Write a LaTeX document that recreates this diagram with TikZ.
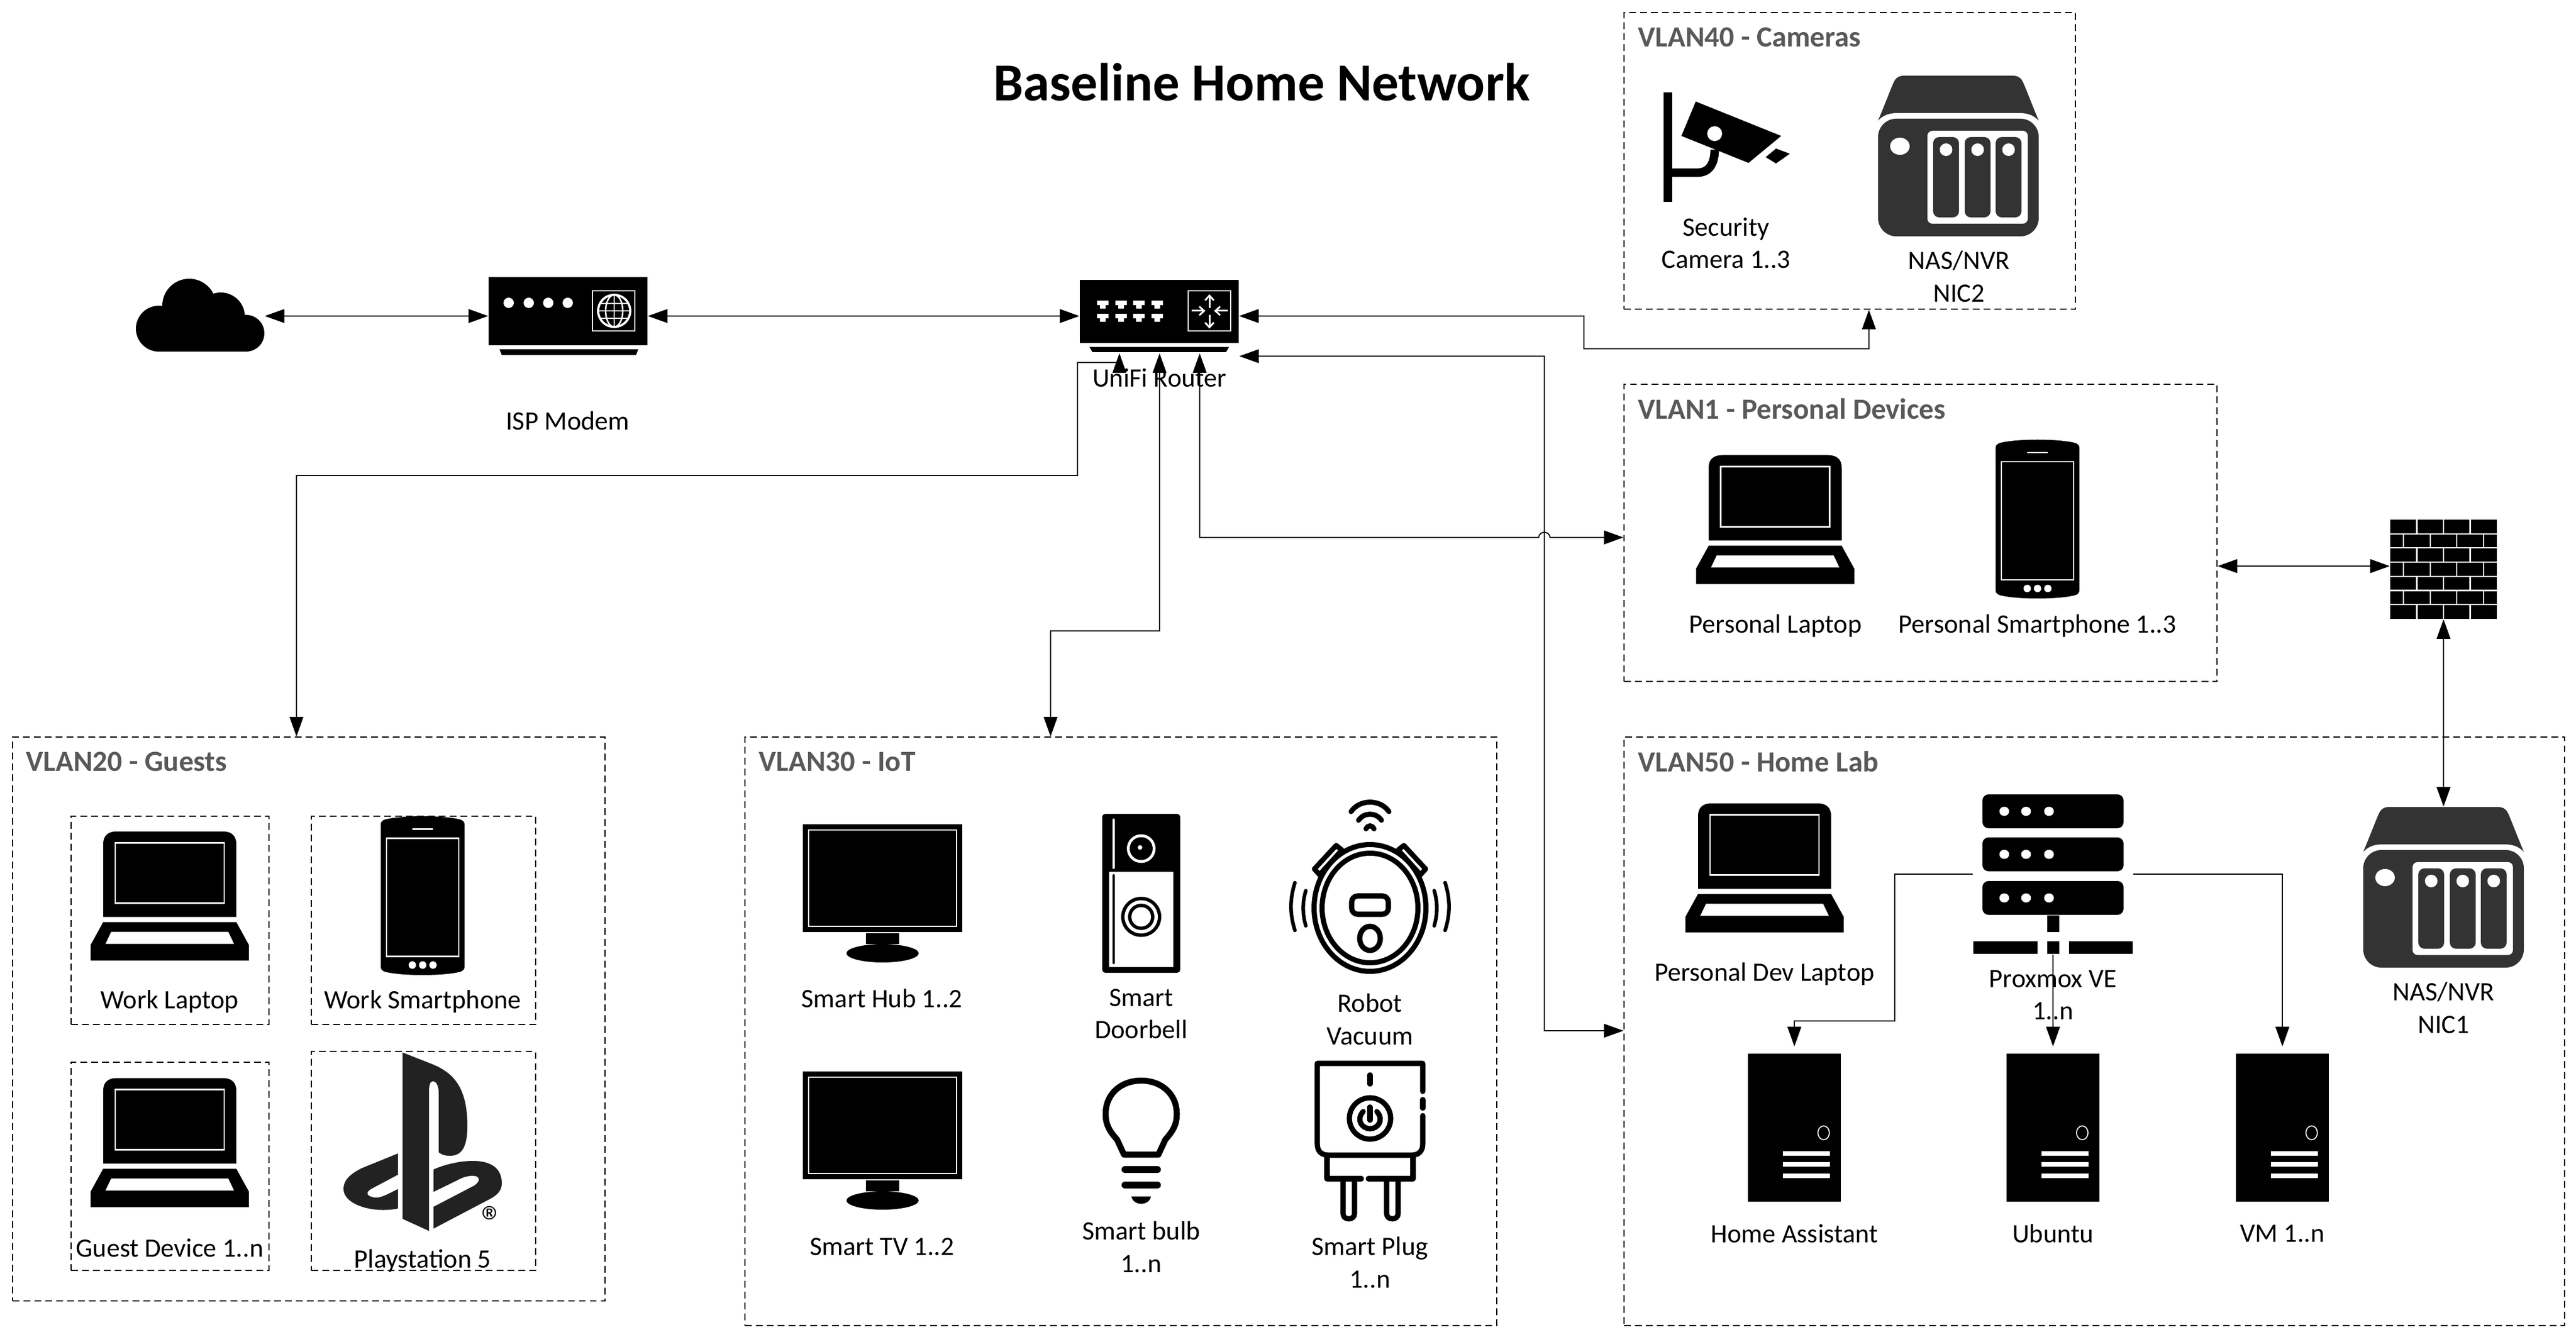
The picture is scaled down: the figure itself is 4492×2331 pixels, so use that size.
\documentclass[tikz,border=0pt]{standalone}
\usepackage{fontspec}
\setmainfont{Carlito}
\usetikzlibrary{arrows.meta}
\definecolor{nasgray}{HTML}{333333}
\definecolor{titlegray}{HTML}{595959}
\definecolor{logogray}{HTML}{222222}
\tikzset{
  box_line/.style={draw=black,line width=0.6pt,dash pattern=on 3.4pt off 2pt},
  vlan_box/.style 2 args={box_line,anchor=north west,inner sep=0pt,minimum width=#1*0.01cm,minimum height=#2*0.01cm},
  sub_box/.style 2 args={vlan_box={#1}{#2}},
  vlan_title/.style={anchor=west,inner sep=0pt,text=titlegray,font=\fontsize{14.5}{16}\selectfont\bfseries},
  lbl/.style={inner sep=0pt,align=center,font=\fontsize{13.15}{16}\selectfont},
  icon/.style 2 args={inner sep=0pt,minimum width=#1*0.01cm,minimum height=#2*0.01cm},
  link/.style={line width=0.55pt},
  laptop_icon/.pic={
    \fill (-116,37) -- (-116,-90) .. controls (-116,-106) and (-106,-112) .. (-92,-112) -- (92,-112) .. controls (106,-112) and (116,-106) .. (116,-90) -- (116,37) -- cycle;
    \draw[white,line width=0.6pt] (-95,-92) rectangle (95,13);
    \fill (-116,46) -- (116,46) -- (138,86) -- (138,113) -- (-138,113) -- (-138,86) -- cycle;
    \fill[white] (-102,63) -- (102,63) -- (112,84) -- (-112,84) -- cycle;
  },
  phone_icon/.pic={
    \fill (-73,-124) .. controls (-73,-132) and (-65,-133) .. (-60,-134) .. controls (-30,-140) and (30,-140) .. (60,-134) .. controls (65,-133) and (73,-132) .. (73,-124) -- (73,124) .. controls (73,132) and (65,133) .. (60,134) .. controls (30,140) and (-30,140) .. (-60,134) .. controls (-65,133) and (-73,132) .. (-73,124) -- cycle;
    \draw[white,line width=0.6pt] (-63,-100) rectangle (63,106);
    \draw[white,line width=0.6pt] (-18,-116) -- (18,-116);
    \foreach \dotx in {-18,0,18} \fill[white] (\dotx,121) circle (6.5);
  },
  nas_icon/.pic={
    \fill[nasgray] (-140,-62) .. controls (-130,-85) and (-115,-125) .. (-112,-130) .. controls (-108,-138) and (-102,-140) .. (-95,-140) -- (95,-140) .. controls (102,-140) and (108,-138) .. (112,-130) .. controls (115,-125) and (130,-85) .. (140,-62) .. controls (130,-72) and (120,-75) .. (105,-75) -- (-105,-75) .. controls (-120,-75) and (-130,-72) .. (-140,-62) -- cycle;
    \fill[nasgray,rounded corners=9pt] (-140,-65) rectangle (140,140);
    \fill[white,rounded corners=2.5pt] (-54,-44) rectangle (121,118);
    \foreach \bayx in {-44,11,65} {
      \fill[nasgray,rounded corners=3pt] (\bayx,-33) rectangle ++(45,140);
      \fill[white] (\bayx+22.5,-11) ellipse [x radius=11,y radius=11];
    }
    \fill[white] (-102,-17) ellipse [x radius=17,y radius=15];
  },
  tower_icon/.pic={
    \fill (-81,-129) rectangle (81,129);
    \draw[white,line width=0.5pt] (51,9) ellipse [x radius=10,y radius=12];
    \foreach \bary in {45,64,84} \fill[white] (-20,\bary-4) rectangle (62,\bary+4);
  },
  monitor_icon/.pic={
    \fill (-139,-120) rectangle (139,68);
    \draw[white,line width=0.5pt] (-129,-110) rectangle (129,58);
    \fill (-29,70) rectangle (29,89);
    \fill (0,105) ellipse [x radius=63,y radius=16];
  },
  modem_icon/.pic={
    \fill (-138.5,-68) rectangle (138.5,51);
    \fill (-119.5,58) -- (122.5,58) -- (118.5,68) -- (-115.5,68) -- cycle;
    \foreach \dotx in {-103.5,-68.5,-34.5,-0.5} \fill[white] (\dotx,-23) circle (9);
    \draw[white,line width=0.6pt] (42.5,-44) rectangle (116.5,26);
    \draw[white,line width=1.1pt] (80.5,-9) circle (28);
    \begin{scope}[white,line width=0.75pt]
      \draw (80.5,-9) ellipse [x radius=15,y radius=28];
      \draw (80.5,-37) -- (80.5,19);
      \draw (52,-9) -- (109,-9) (56,-22) -- (105,-22) (56,4) -- (105,4);
    \end{scope}
  },
  router_icon/.pic={
    \fill (-138.5,-63) rectangle (138.5,47);
    \fill (-121.5,54) -- (121.5,54) -- (116.5,63) -- (-116.5,63) -- cycle;
    \foreach \portx in {-98.5,-66.5,-35.5,-3.5} \foreach \porty in {-27,-4} {
      \fill[white] (\portx-10,\porty) rectangle (\portx+10,\porty+8);
      \fill[white] (\portx-5,\porty+8) rectangle (\portx+5,\porty+14);
    }
    \draw[white,line width=0.6pt] (50.5,-44) rectangle (124.5,26);
    \begin{scope}[white,line width=0.85pt,-{Straight Barb[length=2.4pt,width=4.3pt]}]
      \draw (87.5,-14) -- (87.5,-38);
      \draw (87.5,-2) -- (87.5,22);
      \draw (56.5,-9) -- (80.5,-9);
      \draw (119.5,-9) -- (95.5,-9);
    \end{scope}
  },
  cloud_icon/.pic={
    \fill (-72,0) rectangle (80,62);
    \fill (-72,22) circle (40);
    \fill (80,30) circle (32);
    \fill (-19,-18) circle (47);
    \fill (36,1) circle (42);
  },
  camera_icon/.pic={
    \fill (-109,-95) rectangle (-94,96);
    \draw[line width=4.2pt] (-94,45) -- (-50,45) .. controls (-30,45) and (-20,30) .. (-20,5);
    \fill (-53,-79) -- (96,-19) -- (39,28) -- (-78,-19) -- cycle;
    \fill (87,3) -- (111,12) -- (87,29) -- (69,18) -- cycle;
    \fill[white] (-20,-23) ellipse [x radius=13,y radius=13];
  },
  server_icon/.pic={
    \foreach \unity in {-139,-64,12} {
      \fill[rounded corners=3pt] (-123,\unity) rectangle (123,\unity+59);
      \foreach \dotx in {-85,-47,-7} \fill[white] (\dotx,\unity+29.5) ellipse [x radius=8.5,y radius=8];
    }
    \fill (-10,72) rectangle (11,101);
    \fill (-139,117) rectangle (-27,139);
    \fill (-10,117) rectangle (11,139);
    \fill (28,117) rectangle (139,139);
  },
  firewall_icon/.pic={
    \fill (-93,-86.5) rectangle (93,86.5);
    \begin{scope}[white,line width=0.6pt]
      \foreach \row in {1,...,6} \draw (-93,-86.5+24.7*\row) -- (93,-86.5+24.7*\row);
      \foreach \row in {0,2,4,6} \foreach \joint in {-46.5,0,46.5}
        \draw (\joint,-86.5+24.7*\row) -- (\joint,-86.5+24.7*\row+24.7);
      \foreach \row in {1,3,5} \foreach \joint in {-70,-23,23,70}
        \draw (\joint,-86.5+24.7*\row) -- (\joint,-86.5+24.7*\row+24.7);
    \end{scope}
  },
  doorbell_icon/.pic={
    \fill[rounded corners=1.5pt] (-68,-138.5) rectangle (68,138.5);
    \fill[white] (-56,-38) rectangle (56,128);
    \draw[line width=1.4pt,line cap=round] (-48,-31) -- (-48,121);
    \draw[white,line width=1.4pt,line cap=round] (-48,-128) -- (-48,-45);
    \fill (0,41) circle (35);
    \fill[white] (0,41) circle (29);
    \fill (0,41) circle (23);
    \fill[white] (0,41) circle (17);
    \fill[white] (0,-78) circle (25);
    \fill (0,-78) circle (20);
    \fill[white] (-2,-80) circle (4);
  },
  robot_icon/.pic={
    \foreach \side in {-1,1}
      \draw[fill=white,line width=2.5pt,line join=round] (\side*59,-109) -- (\side*97,-68) -- (\side*88,-58) -- (\side*49,-101) -- cycle;
    \fill (0,0) ellipse [x radius=102,y radius=115];
    \fill[white] (0,0) ellipse [x radius=93,y radius=106];
    \fill (0,0) ellipse [x radius=88,y radius=100];
    \fill[white] (0,0) ellipse [x radius=79,y radius=91];
    \draw[line width=2.6pt,rounded corners=3pt] (-32,-21) rectangle (32,11);
    \draw[line width=2.6pt] (0,53) ellipse [x radius=18,y radius=21];
    \begin{scope}[line width=2.5pt,line cap=round]
      \draw (-33,-168) .. controls (-18,-190) and (18,-190) .. (33,-168);
      \draw (-20,-153) .. controls (-10,-167) and (10,-167) .. (20,-153);
      \draw (-7,-138) .. controls (-3,-145) and (3,-145) .. (7,-138);
    \end{scope}
    \begin{scope}[line width=1.8pt,line cap=round]
      \foreach \side in {-1,1} {
        \draw (\side*131,-44) .. controls (\side*140,-15) and (\side*140,10) .. (\side*131,39);
        \draw (\side*112,-30) .. controls (\side*118,-10) and (\side*118,10) .. (\side*112,31);
      }
    \end{scope}
  },
  bulb_icon/.pic={
    \draw[line width=3pt,line join=round] (-30,66) -- (-42,40) .. controls (-55,25) and (-62,15) .. (-62,-5) .. controls (-62,-40) and (-35,-63) .. (0,-63) .. controls (35,-63) and (62,-40) .. (62,-5) .. controls (62,15) and (55,25) .. (42,40) -- (30,66) -- cycle;
    \draw[line width=3.6pt,line cap=round] (-28,92) -- (28,92) (-28,119) -- (28,119);
    \fill (-17,139) -- (17,139) .. controls (14,156) and (-14,156) .. (-17,139) -- cycle;
  },
  plug_icon/.pic={
    \begin{scope}[line width=2.6pt,line cap=round,line join=round]
      \draw (92,-47) -- (92,-96) -- (-92,-96) -- (-92,44) .. controls (-92,58) and (-84,64) .. (-72,64) -- (72,64) .. controls (84,64) and (92,58) .. (92,44) -- (92,-5);
      \draw (92,-33) -- (92,-18);
      \draw (0,-76) -- (0,-60);
      \draw (0,0) circle (36);
      \draw (0,-20) -- (0,3);
      \draw (-12,-12) .. controls (-26,4) and (-12,18) .. (0,18) .. controls (12,18) and (26,4) .. (12,-12);
      \draw (-75,64) -- (-75,105) -- (-15,105);
      \draw (-3,105) -- (75,105) -- (75,64);
      \draw (-47,105) -- (-47,166) .. controls (-47,178) and (-27,178) .. (-27,166) -- (-27,105);
      \draw (29,105) -- (29,166) .. controls (29,178) and (49,178) .. (49,166) -- (49,105);
    \end{scope}
  },
}
\begin{document}
\begin{tikzpicture}[x=0.01cm,y=-0.01cm,>={Triangle[length=9.7pt,width=6.8pt]}]
  \useasboundingbox (0,0) rectangle (4492,2331);

  \path (2200,143) node [inner sep=0pt,font=\fontsize{26.5}{30}\selectfont\bfseries](lbl_title){Baseline Home Network};

  % vlan boxes
  \path (2831,21) node [vlan_box={787}{517}](vlan40){};
  \path (2831,669) node [vlan_box={1034}{518}](vlan1){};
  \path (21,1284) node [vlan_box={1033}{983}](vlan20){};
  \path (1298,1284) node [vlan_box={1311}{1026}](vlan30){};
  \path (2831,1284) node [vlan_box={1640}{1026}](vlan50){};
  \path (123,1422) node [sub_box={345}{363}](box_worklap){};
  \path (542,1422) node [sub_box={391}{363}](box_workphone){};
  \path (123,1851) node [sub_box={345}{363}](box_guest){};
  \path (542,1832) node [sub_box={391}{382}](box_ps){};

  \path (2856,65) node [vlan_title](lbl_vlan40){VLAN40 - Cameras};
  \path (2856,713) node [vlan_title](lbl_vlan1){VLAN1 - Personal Devices};
  \path (45,1328) node [vlan_title](lbl_vlan20){VLAN20 - Guests};
  \path (1323,1328) node [vlan_title](lbl_vlan30){VLAN30 - IoT};
  \path (2856,1328) node [vlan_title](lbl_vlan50){VLAN50 - Home Lab};

  % devices on the links
  \path (349,551) node [icon={224}{129}](dev_cloud){} pic {cloud_icon};
  \path (990.5,551) node [icon={277}{136}](dev_modem){} pic {modem_icon};
  \path (2021.5,551) node [icon={277}{126}](dev_router){} pic {router_icon};
  \path (4261,992.5) node [icon={186}{173}](dev_firewall){} pic {firewall_icon};
  \path (4261,1547) node [icon={280}{280}](dev_nas1){} pic {nas_icon};
  \path (3580,1524) node [icon={278}{278}](dev_proxmox){} pic {server_icon};
  \path (3129,1966) node [icon={163}{258}](dev_ha){} pic {tower_icon};
  \path (3580,1966) node [icon={163}{258}](dev_ubuntu){} pic {tower_icon};
  \path (3980,1966) node [icon={163}{258}](dev_vm){} pic {tower_icon};

  % other devices
  \path (3010,256) pic {camera_icon};
  \path (3415,272) pic {nas_icon};
  \path (3095.5,905.5) pic {laptop_icon};
  \path (3553,905) pic {phone_icon};
  \path (3077,1512.5) pic {laptop_icon};
  \path (296,1561.5) pic {laptop_icon};
  \path (296,1991.5) pic {laptop_icon};
  \path (737,1561.5) pic {phone_icon};
  \path (1539,1557) pic {monitor_icon};
  \path (1539,1988) pic {monitor_icon};
  \path (1990,1557.5) pic {doorbell_icon};
  \path (2389,1583) pic {robot_icon};
  \path (1990,1947) pic {bulb_icon};
  \path (2389,1950) pic {plug_icon};

  \fill[logogray] (702,1835) -- (753,1855) .. controls (790,1870) and (815,1895) .. (815,1963) .. controls (815,2000) and (805,2015) .. (785,2015) .. controls (775,2015) and (770,2013) .. (765,2009) -- (765,1905) .. controls (765,1892) and (760,1885) .. (755,1885) .. controls (750,1885) and (748,1892) .. (748,1905) -- (748,2146) -- (702,2125) -- cycle;
  \fill[logogray] (694,2011) -- (694,2048) -- (647,2073) .. controls (638,2078) and (637,2086) .. (655,2088) .. controls (665,2088) and (672,2084) .. (694,2073) -- (694,2107) .. controls (650,2116) and (599,2100) .. (599,2073) .. controls (599,2055) and (615,2045) .. (630,2037) -- cycle;
  \fill[logogray] (756,2039) .. controls (785,2025) and (875,2005) .. (875,2063) .. controls (875,2075) and (868,2083) .. (855,2090) -- (756,2142) -- (756,2104) -- (827,2067) .. controls (838,2060) and (838,2050) .. (825,2050) .. controls (818,2050) and (812,2051) .. (805,2054) -- (756,2078) -- cycle;
  \path (859,2130) node [inner sep=0pt,font=\fontsize{22}{22}\selectfont](lbl_reg){®};

  % labels
  \path (990,734) node [lbl](lbl_modem){ISP Modem};
  \path (2022,659) node [lbl](lbl_router){UniFi Router};
  \path (3010,424) node [lbl](lbl_cam){Security\\Camera 1..3};
  \path (3416,482) node [lbl](lbl_nas2){NAS/NVR\\NIC2};
  \path (3096,1091) node [lbl](lbl_perslap){Personal Laptop};
  \path (3553,1091) node [lbl](lbl_persphone){Personal Smartphone 1..3};
  \path (3077,1698) node [lbl](lbl_devlap){Personal Dev Laptop};
  \path (3580,1735) node [lbl](lbl_proxmox){Proxmox VE\\1..n};
  \path (4261,1757) node [lbl](lbl_nas1){NAS/NVR\\NIC1};
  \path (3129,2151) node [lbl](lbl_ha){Home Assistant};
  \path (3580,2151) node [lbl](lbl_ubuntu){Ubuntu};
  \path (3980,2151) node [lbl](lbl_vm){VM 1..n};
  \path (296,1746) node [lbl](lbl_worklap){Work Laptop};
  \path (737,1746) node [lbl](lbl_workphone){Work Smartphone};
  \path (296,2176) node [lbl](lbl_guest){Guest Device 1..n};
  \path (737,2198) node [lbl](lbl_ps){Playstation 5};
  \path (1538,1741) node [lbl](lbl_hub){Smart Hub 1..2};
  \path (1538,2174) node [lbl](lbl_tv){Smart TV 1..2};
  \path (1990,1768) node [lbl](lbl_door){Smart\\Doorbell};
  \path (2389,1777) node [lbl](lbl_robot){Robot\\Vacuum};
  \path (1990,2174) node [lbl](lbl_bulb){Smart bulb\\1..n};
  \path (2389,2201) node [lbl](lbl_plug){Smart Plug\\1..n};

  % connectors
  \coordinate (rtr_guest) at (1952,616);
  \coordinate (rtr_iot) at (2022,616);
  \coordinate (rtr_pers) at (2092,616);
  \coordinate (rtr_lab) at (2161,621);
  \draw[<->,link] (dev_cloud.east) -- (dev_modem.west);
  \draw[<->,link] (dev_modem.east) -- (dev_router.west);
  \draw[<->,link] (dev_router.east) -- (2762,551) -- (2762,608) -- (3259,608) -- (3259,0 |- vlan40.south);
  \draw[<->,link] (rtr_lab) -- (2693,621) -- (2693,1797) -- (vlan50.west |- 0,1797);
  \draw[<->,link] (rtr_guest) -- (1952,632) -- (1879,632) -- (1879,829) -- (517,829) -- (517,0 |- vlan20.north);
  \draw[<->,link] (rtr_iot) -- (2022,1100) -- (1832,1100) -- (1832,0 |- vlan30.north);
  \draw[<->,link] (rtr_pers) -- (2092,937) -- (2683,937) .. controls (2685,925) and (2701,925) .. (2703,937) -- (vlan1.west |- 0,937);
  \draw[<->,link] (vlan1.east |- 0,987) -- (dev_firewall.west |- 0,987);
  \draw[<->,link] (dev_firewall.south) -- (dev_nas1.north);
  \draw[->,link,shorten >=3.4pt] (dev_proxmox.west) -- (3304,1524) -- (3304,1780) -- (3129,1780) -- (dev_ha.north);
  \draw[->,link,shorten >=3.4pt] (dev_proxmox.south) -- (dev_ubuntu.north);
  \draw[->,link,shorten >=3.4pt] (dev_proxmox.east) -- (3980,1524) -- (dev_vm.north);

\end{tikzpicture}
\end{document}
